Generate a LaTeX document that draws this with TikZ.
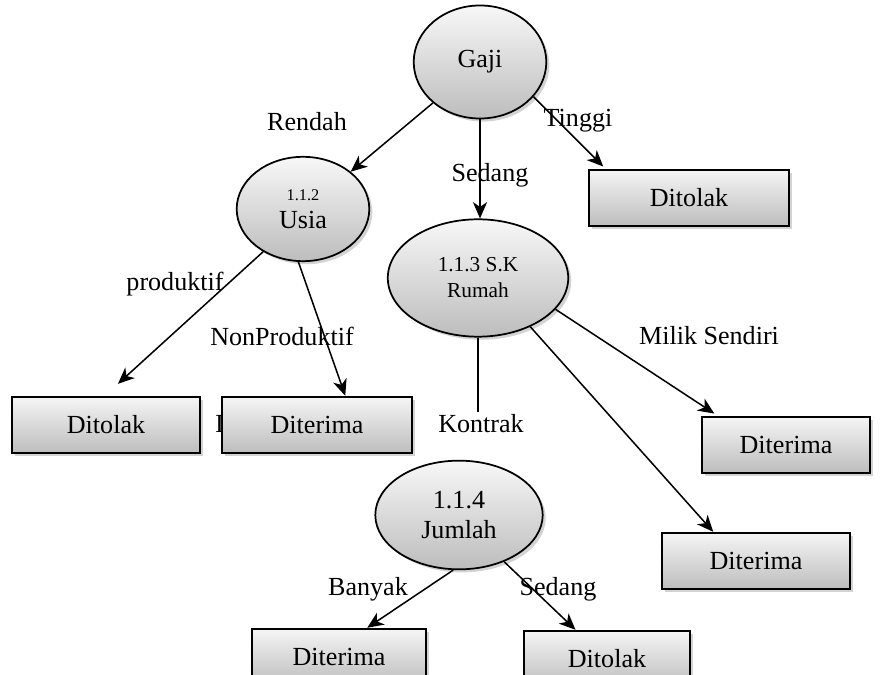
\documentclass[tikz,border=0pt]{standalone}
\usepackage{fontspec}
\setmainfont{Liberation Serif}
\usetikzlibrary{arrows.meta,shapes.geometric,shadows}

\tikzset{
  bayang/.style={drop shadow={shadow xshift=1.4pt, shadow yshift=-1.4pt, opacity=0.35}},
  proses/.style={ellipse, draw, line width=0.8pt, top color=black!3, bottom color=black!26,
    bayang, inner sep=0pt, align=center, font=\fontsize{12}{14}\selectfont},
  kotak/.style={rectangle, draw, line width=0.9pt, top color=black!4, bottom color=black!26,
    bayang, inner sep=0pt, minimum height=26pt, font=\fontsize{12}{14}\selectfont},
  panah/.style={-{Stealth[length=7.5pt,width=6.5pt,inset=2.2pt]}, line width=0.7pt},
  ket/.style={inner sep=0pt, font=\fontsize{12}{14}\selectfont}
}

\begin{document}
\begin{tikzpicture}[x=0.46pt, y=-0.46pt]
  \useasboundingbox (0,0) rectangle (880,675);

  % simpul keputusan
  \node [proses, minimum width=61pt, minimum height=52pt](gaji) at (480,62) {Gaji};
  \node [proses, minimum width=61pt, minimum height=48pt](usia) at (303,209)
    {{\fontsize{7.5}{9}\selectfont 1.1.2}\\[-1pt]Usia};
  \node [proses, minimum width=83pt, minimum height=54pt, font=\fontsize{9.8}{12}\selectfont](sk) at (478,278)
    {1.1.3 S.K\\Rumah};
  \node [proses, minimum width=77pt, minimum height=50pt](jumlah) at (459,515)
    {1.1.4\\Jumlah};

  % potongan teks di belakang kotak
  \node [ket, anchor=west](frag) at (215,424) {D};

  % kotak hasil
  \node [kotak, minimum width=92pt](dtr) at (689,198) {Ditolak};
  \node [kotak, minimum width=86.5pt](dtl) at (106,425) {Ditolak};
  \node [kotak, minimum width=87pt](dtm) at (317,425) {Diterima};
  \node [kotak, minimum width=77pt](dtk) at (786,445) {Diterima};
  \node [kotak, minimum width=86.5pt](dtb) at (756,561) {Diterima};
  \node [kotak, minimum width=80pt](dtj) at (339,657) {Diterima};
  \node [kotak, minimum width=76pt](dtx) at (607,659) {Ditolak};

  % label cabang
  \node [ket](rendah) at (307,122) {Rendah};
  \node [ket](tinggi) at (578,121) {Tinggi};
  \node [ket](sedang1) at (490,175) {Sedang};
  \node [ket](produktif) at (175,284) {produktif};
  \node [ket](nonprod) at (282,336) {NonProduktif};
  \node [ket](milik) at (709,336) {Milik Sendiri};
  \node [ket](kontrak) at (481,424) {Kontrak};
  \node [ket](banyak) at (368,589) {Banyak};
  \node [ket](sedang2) at (558,589) {Sedang};

  \coordinate (kt) at (478,412);

  \draw [panah] (gaji.221) -- (usia.38);
  \draw [panah] (gaji.south) -- (gaji.south |- sk.north);
  \draw [panah] (gaji.327) -- ([xshift=7pt,yshift=1pt]dtr.north west);
  \draw [panah] (usia.227) -- ([xshift=5.5pt,yshift=5.5pt]dtl.north);
  \draw [panah] (usia.265) -- ([xshift=13pt]dtm.north);
  \draw [line width=0.7pt] (sk.south) -- (kt);
  \draw [panah] (sk.338) -- ([xshift=6pt,yshift=1pt]dtk.north west);
  \draw [panah] (sk.317) -- ([xshift=24pt]dtb.north west);
  \draw [panah] (jumlah.264) -- ([xshift=13pt]dtj.north);
  \draw [panah] (jumlah.314) -- ([xshift=-14.5pt]dtx.north);
\end{tikzpicture}
\end{document}
